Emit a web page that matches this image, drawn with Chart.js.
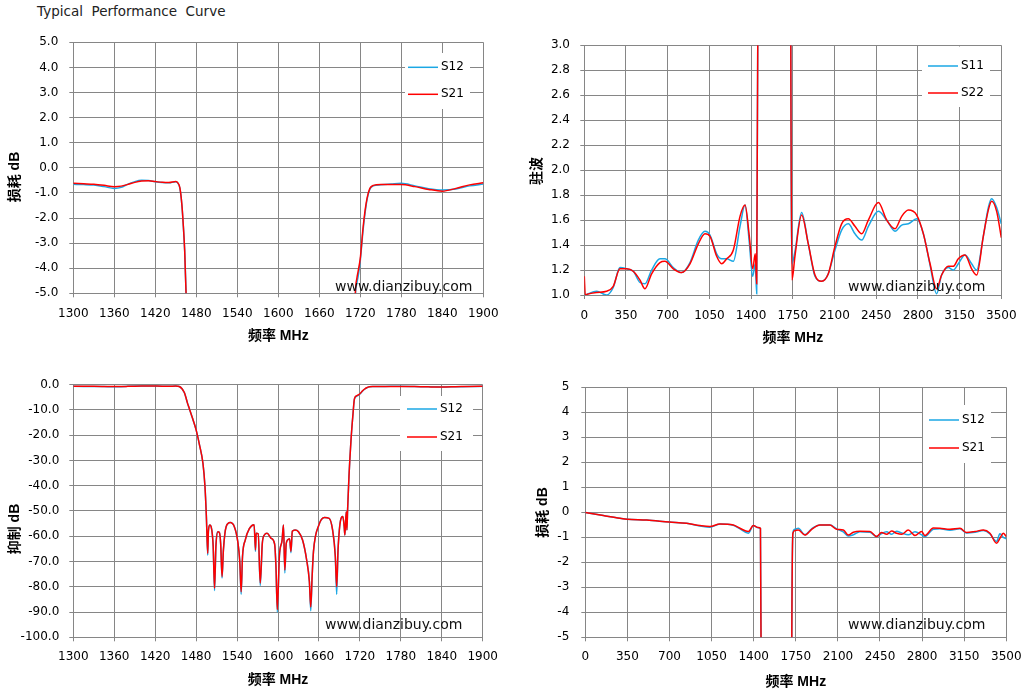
<!DOCTYPE html>
<html><head><meta charset="utf-8">
<script src="https://cdn.jsdelivr.net/npm/chart.js@4.4.0/dist/chart.umd.min.js"></script>
<style>
html,body{margin:0;padding:0;background:#fff;width:1026px;height:693px;overflow:hidden;position:relative}
canvas{position:absolute}
#title{position:absolute;left:37px;top:3px;font:13.5px "DejaVu Sans",sans-serif;line-height:16px;color:#222;white-space:pre}
</style></head><body>
<div id="title">Typical  Performance  Curve</div>
<canvas id="c1"></canvas>
<canvas id="c2"></canvas>
<canvas id="c3"></canvas>
<canvas id="c4"></canvas>
<script>
// ---------- DATA ----------
// Narrow band 1300-1900 MHz (used for insertion loss & rejection plots)
const freqA = [1300,1315,1330,1345,1360,1370,1380,1390,1400,1410,
 1420,1430,1440,1450,1453,1456,1459,1461,1463,1465,
 1467,1470,1475,1480,1485,1490,1493,1495,1497,1498,
 1500,1502,1505,1507,1509,1512,1514,1516,1518,1520,
 1524,1530,1536,1541,1544,1546,1548,1552,1558,1565,
 1567,1568,1571,1574,1577,1580,1584,1590,1595,1597,
 1599,1602,1606,1608,1610,1612,1614,1617,1619,1621,
 1625,1630,1636,1642,1646,1648,1650,1652,1660,1668,
 1675,1680,1684,1686,1688,1692,1695,1697,1698,1700,
 1701,1702,1704,1707,1710,1712,1715,1717,1720,1724,
 1727,1730,1734,1739,1750,1765,1780,1800,1820,1840,
 1860,1880,1900];
const s21A = [-0.62,-0.64,-0.66,-0.70,-0.75,-0.73,-0.66,-0.58,-0.53,-0.52,
 -0.55,-0.58,-0.59,-0.55,-0.60,-0.80,-1.50,-2.30,-3.30,-5.00,
 -7.0,-9.4,-13.5,-17.9,-23.9,-31.1,-40.4,-52.0,-66.8,-58.0,
 -55.5,-56.2,-64.0,-80.6,-64.0,-58.2,-58.5,-63.0,-76.0,-65.4,
 -56.2,-54.6,-56.2,-62.0,-70.0,-82.0,-68.0,-61.5,-57.0,-55.4,
 -65.4,-58.8,-59.0,-78.5,-62.8,-59.5,-58.8,-60.8,-63.0,-72.0,
 -89.0,-68.0,-61.5,-55.5,-73.4,-63.0,-61.5,-61.0,-66.0,-58.0,
 -57.5,-58.2,-61.5,-69.4,-78.0,-88.0,-76.0,-66.0,-55.5,-52.6,
 -52.9,-57.5,-68.0,-80.0,-65.4,-53.3,-52.2,-56.2,-59.5,-50.3,
 -57.5,-49.6,-36.4,-21.9,-11.3,-5.6,-4.4,-4.1,-3.6,-2.4,
 -1.7,-1.2,-0.82,-0.70,-0.67,-0.67,-0.67,-0.75,-0.86,-0.93,
 -0.82,-0.68,-0.60];
const s12A = [-0.66,-0.67,-0.69,-0.75,-0.82,-0.78,-0.65,-0.55,-0.50,-0.51,
 -0.56,-0.59,-0.60,-0.56,-0.61,-0.82,-1.52,-2.32,-3.30,-5.00,
 -7.0,-9.4,-13.5,-17.9,-23.9,-31.1,-40.4,-52.0,-67.5,-58.0,
 -55.5,-56.2,-64.0,-81.5,-64.0,-58.2,-58.5,-63.0,-76.5,-65.4,
 -56.2,-54.6,-56.2,-62.0,-70.0,-83.0,-68.0,-61.5,-57.0,-55.4,
 -66.0,-58.8,-59.0,-79.5,-62.8,-59.5,-58.8,-60.8,-63.0,-72.0,
 -90.0,-68.0,-61.5,-55.5,-74.5,-63.0,-61.5,-61.0,-66.5,-58.0,
 -57.5,-58.2,-61.5,-69.4,-78.0,-89.5,-76.0,-66.0,-55.5,-52.6,
 -52.9,-57.5,-68.0,-83.0,-65.4,-53.3,-52.2,-56.2,-59.5,-50.3,
 -57.5,-49.6,-36.4,-21.9,-11.3,-5.7,-4.6,-4.3,-3.7,-2.5,
 -1.8,-1.25,-0.85,-0.72,-0.68,-0.65,-0.62,-0.72,-0.83,-0.88,
 -0.84,-0.72,-0.65];

// Wide band VSWR 0-3500 MHz
const freqB = [0,8,20,104,187,243,299,355,411,467,
 509,565,635,677,747,817,887,957,1013,1055,
 1111,1153,1195,1251,1307,1349,1385,1413,1435,1447,
 1458,1470,1710,1733,1743,1768,1824,1880,1936,1992,
 2048,2104,2160,2216,2272,2328,2384,2468,2538,2608,
 2664,2720,2790,2846,2902,2957,2999,3055,3097,3139,
 3195,3251,3293,3349,3391,3419,3461,3500];
const s22B = [1.15,1.00,1.005,1.02,1.03,1.07,1.21,1.21,1.19,1.12,
 1.05,1.17,1.26,1.27,1.21,1.18,1.25,1.41,1.49,1.47,
 1.31,1.25,1.29,1.36,1.63,1.72,1.47,1.21,1.33,1.09,
 3.5,20,20,3.2,1.12,1.31,1.64,1.41,1.16,1.11,
 1.17,1.39,1.57,1.61,1.55,1.49,1.60,1.74,1.60,1.53,
 1.63,1.68,1.64,1.49,1.25,1.05,1.16,1.23,1.23,1.29,
 1.32,1.21,1.16,1.47,1.68,1.75,1.67,1.46];
const s11B = [1.00,1.00,1.005,1.03,1.00,1.06,1.22,1.21,1.19,1.10,
 1.09,1.20,1.29,1.29,1.22,1.18,1.26,1.44,1.51,1.48,
 1.33,1.29,1.29,1.27,1.55,1.72,1.42,1.15,1.25,1.01,
 3.5,20,20,3.2,1.25,1.35,1.66,1.41,1.15,1.11,
 1.17,1.36,1.52,1.57,1.49,1.44,1.55,1.67,1.60,1.51,
 1.56,1.57,1.61,1.49,1.24,1.01,1.16,1.22,1.20,1.25,
 1.32,1.25,1.20,1.47,1.70,1.77,1.70,1.57];

// Wide band insertion loss 0-3500 MHz
const freqC = [0,150,288,349,510,698,842,953,1036,1119,
 1230,1286,1355,1397,1438,1456,1462,1475,1705,1716,
 1726,1743,1771,1826,1882,1951,2034,2089,2145,2186,
 2228,2283,2366,2422,2463,2505,2547,2588,2630,2685,
 2741,2796,2824,2893,2948,3031,3115,3170,3239,3309,
 3364,3419,3447,3475,3500];
const s21C = [-0.01,-0.13,-0.24,-0.28,-0.31,-0.39,-0.44,-0.53,-0.57,-0.47,
 -0.51,-0.64,-0.77,-0.53,-0.61,-0.64,-6,-30,-30,-6,
 -0.84,-0.73,-0.71,-0.91,-0.68,-0.51,-0.51,-0.68,-0.71,-0.91,
 -0.80,-0.76,-0.77,-0.97,-0.81,-0.88,-0.75,-0.84,-0.88,-0.71,
 -0.93,-0.77,-0.93,-0.63,-0.64,-0.68,-0.64,-0.81,-0.77,-0.71,
 -0.84,-1.24,-1.04,-0.84,-0.97];
const s12C = [-0.01,-0.13,-0.24,-0.28,-0.31,-0.39,-0.44,-0.55,-0.60,-0.47,
 -0.52,-0.66,-0.84,-0.53,-0.62,-0.65,-6,-30,-30,-6,
 -0.82,-0.68,-0.64,-0.90,-0.66,-0.51,-0.51,-0.66,-0.78,-0.95,
 -0.90,-0.78,-0.80,-0.97,-0.85,-0.78,-0.88,-0.76,-0.83,-0.90,
 -0.78,-0.90,-0.97,-0.68,-0.66,-0.72,-0.66,-0.83,-0.80,-0.73,
 -0.86,-1.17,-0.86,-1.00,-1.06];

const xTitle = '频率 MHz';
const markText = 'www.dianzibuy.com';

// ---------- STYLE ----------
const BLUE = '#1ba7e4', RED = '#ff0000', GRID = '#868686';
const FONT = '"DejaVu Sans", sans-serif';
const TITLEFONT = '"Liberation Sans","Noto Sans CJK SC",sans-serif';
Chart.defaults.font.family = FONT;
Chart.defaults.color = '#000';

const pts = (xs, ys) => xs.map((x, i) => ({x: x, y: ys[i]}));

const overlay = {
  id: 'overlay',
  afterDatasetsDraw(chart, args, o) {
    const ctx = chart.ctx;
    const bx = o.box.l, by = o.box.t;
    ctx.save();
    // watermark
    ctx.font = '14px ' + FONT;
    ctx.fillStyle = '#111';
    ctx.textAlign = 'left';
    ctx.textBaseline = 'middle';
    ctx.fillText(markText, o.mark.x - bx, o.mark.y - by);
    // legend
    const L = o.legend;
    ctx.fillStyle = '#fff';
    ctx.fillRect(L.x - bx, L.y - by, L.w, L.h);
    chart.data.datasets.forEach((ds, i) => {
      const y = L.rows[i] - by;
      ctx.strokeStyle = ds.borderColor;
      ctx.lineWidth = 1.5;
      ctx.beginPath();
      ctx.moveTo(L.lx1 - bx, y);
      ctx.lineTo(L.lx2 - bx, y);
      ctx.stroke();
      ctx.fillStyle = '#000';
      ctx.font = '12px ' + FONT;
      ctx.textBaseline = 'middle';
      ctx.fillText(ds.label, L.tx - bx, y);
    });
    // y axis title
    ctx.translate(o.ytitle.x - bx, o.ytitle.y - by);
    ctx.rotate(-Math.PI / 2);
    ctx.font = 'bold 14px ' + TITLEFONT;
    ctx.fillStyle = '#000';
    ctx.textAlign = 'center';
    ctx.textBaseline = 'middle';
    ctx.fillText(o.ytitle.text, 0, 0);
    ctx.restore();
  }
};

function noPad(s) { s.paddingTop = 0; s.paddingBottom = 0; s.paddingLeft = 0; s.paddingRight = 0; }

function makeChart(id, box, area, sc, sets, ov) {
  const cv = document.getElementById(id);
  cv.width = box.w; cv.height = box.h;
  cv.style.left = box.l + 'px'; cv.style.top = box.t + 'px';
  cv.style.width = box.w + 'px'; cv.style.height = box.h + 'px';
  ov.box = box;
  return new Chart(cv, {
    type: 'line',
    data: {datasets: sets.map(s => ({
      label: s.label, data: s.data, borderColor: s.color, backgroundColor: s.color,
      borderWidth: 1.5, pointRadius: 0, fill: false, order: s.order,
      cubicInterpolationMode: 'monotone'
    }))},
    options: {
      responsive: false, animation: false, events: [],
      devicePixelRatio: 1,
      layout: {padding: {left: 0, top: area.t - box.t, right: box.l + box.w - area.r, bottom: 0}},
      plugins: {legend: {display: false}, tooltip: {enabled: false}, overlay: ov},
      scales: {
        x: {
          type: 'linear', min: sc.xMin, max: sc.xMax,
          ticks: {stepSize: sc.xStep, autoSkip: false, maxRotation: 0, padding: sc.xPad,
                  font: {size: 12}, color: '#000', callback: v => String(v)},
          grid: {color: GRID, tickColor: GRID, tickLength: 4, lineWidth: 1},
          border: {color: GRID, width: 1},
          title: {display: true, text: xTitle, color: '#000',
                  font: {size: 14, weight: 'bold', family: TITLEFONT},
                  padding: {top: 0, bottom: sc.xTitlePad}},
          afterFit: s => { s.height = box.t + box.h - area.b; noPad(s); }
        },
        y: {
          type: 'linear', min: sc.yMin, max: sc.yMax,
          ticks: {stepSize: sc.yStep, autoSkip: false, padding: sc.yPad,
                  font: {size: 12}, color: '#000', callback: v => sc.fmt(v)},
          grid: {color: GRID, tickColor: GRID, tickLength: 4, lineWidth: 1},
          border: {color: GRID, width: 1},
          afterFit: s => { s.width = area.l - box.l; noPad(s); }
        }
      }
    },
    plugins: [overlay]
  });
}

const f1 = v => (Math.abs(v) < 1e-9 ? 0 : v).toFixed(1);
const f0 = v => String(Math.round(v));

// Chart 1: passband insertion loss
makeChart('c1', {l: 0, t: 30, w: 513, h: 320}, {l: 73.3, t: 42.3, r: 483.3, b: 293.3},
  {xMin: 1300, xMax: 1900, xStep: 60, yMin: -5, yMax: 5, yStep: 1, fmt: f1, xPad: 9, yPad: 11, xTitlePad: 5.6},
  [{label: 'S12', data: pts(freqA, s12A), color: BLUE, order: 1},
   {label: 'S21', data: pts(freqA, s21A), color: RED, order: 0}],
  {mark: {x: 335, y: 287}, ytitle: {text: '损耗 dB', x: 15, y: 177},
   legend: {x: 405, y: 53, w: 65, h: 56, rows: [67.3, 94.3], lx1: 408, lx2: 438, tx: 441}});

// Chart 2: VSWR
makeChart('c2', {l: 520, t: 30, w: 506, h: 320}, {l: 584.3, t: 45.3, r: 1001.3, b: 295},
  {xMin: 0, xMax: 3500, xStep: 350, yMin: 1, yMax: 3, yStep: 0.2, fmt: f1, xPad: 9.5, yPad: 10.3, xTitlePad: 3.3},
  [{label: 'S11', data: pts(freqB, s11B), color: BLUE, order: 1},
   {label: 'S22', data: pts(freqB, s22B), color: RED, order: 0}],
  {mark: {x: 848, y: 287.5}, ytitle: {text: '驻波', x: 537, y: 171},
   legend: {x: 922, y: 46.5, w: 68, h: 60.5, rows: [66, 93], lx1: 928, lx2: 958, tx: 961}});

// Chart 3: rejection
makeChart('c3', {l: 0, t: 350, w: 513, h: 343}, {l: 73.3, t: 384.7, r: 482.7, b: 637.3},
  {xMin: 1300, xMax: 1900, xStep: 60, yMin: -100, yMax: 0, yStep: 10, fmt: f1, xPad: 8.2, yPad: 10, xTitlePad: 4.6},
  [{label: 'S12', data: pts(freqA, s12A), color: BLUE, order: 1},
   {label: 'S21', data: pts(freqA, s21A), color: RED, order: 0}],
  {mark: {x: 325, y: 625}, ytitle: {text: '抑制 dB', x: 15, y: 529},
   legend: {x: 400, y: 396, w: 73, h: 55, rows: [409, 437], lx1: 407, lx2: 437, tx: 440}});

// Chart 4: wideband insertion loss
makeChart('c4', {l: 520, t: 350, w: 506, h: 343}, {l: 585.3, t: 387.3, r: 1006.3, b: 637.3},
  {xMin: 0, xMax: 3500, xStep: 350, yMin: -5, yMax: 5, yStep: 1, fmt: f0, xPad: 8.8, yPad: 12, xTitlePad: 2.9},
  [{label: 'S12', data: pts(freqC, s12C), color: BLUE, order: 1},
   {label: 'S21', data: pts(freqC, s21C), color: RED, order: 0}],
  {mark: {x: 848, y: 625}, ytitle: {text: '损耗 dB', x: 543, y: 512.5},
   legend: {x: 923, y: 405, w: 68, h: 58, rows: [420, 448], lx1: 929, lx2: 959, tx: 962}});
</script>
</body></html>
